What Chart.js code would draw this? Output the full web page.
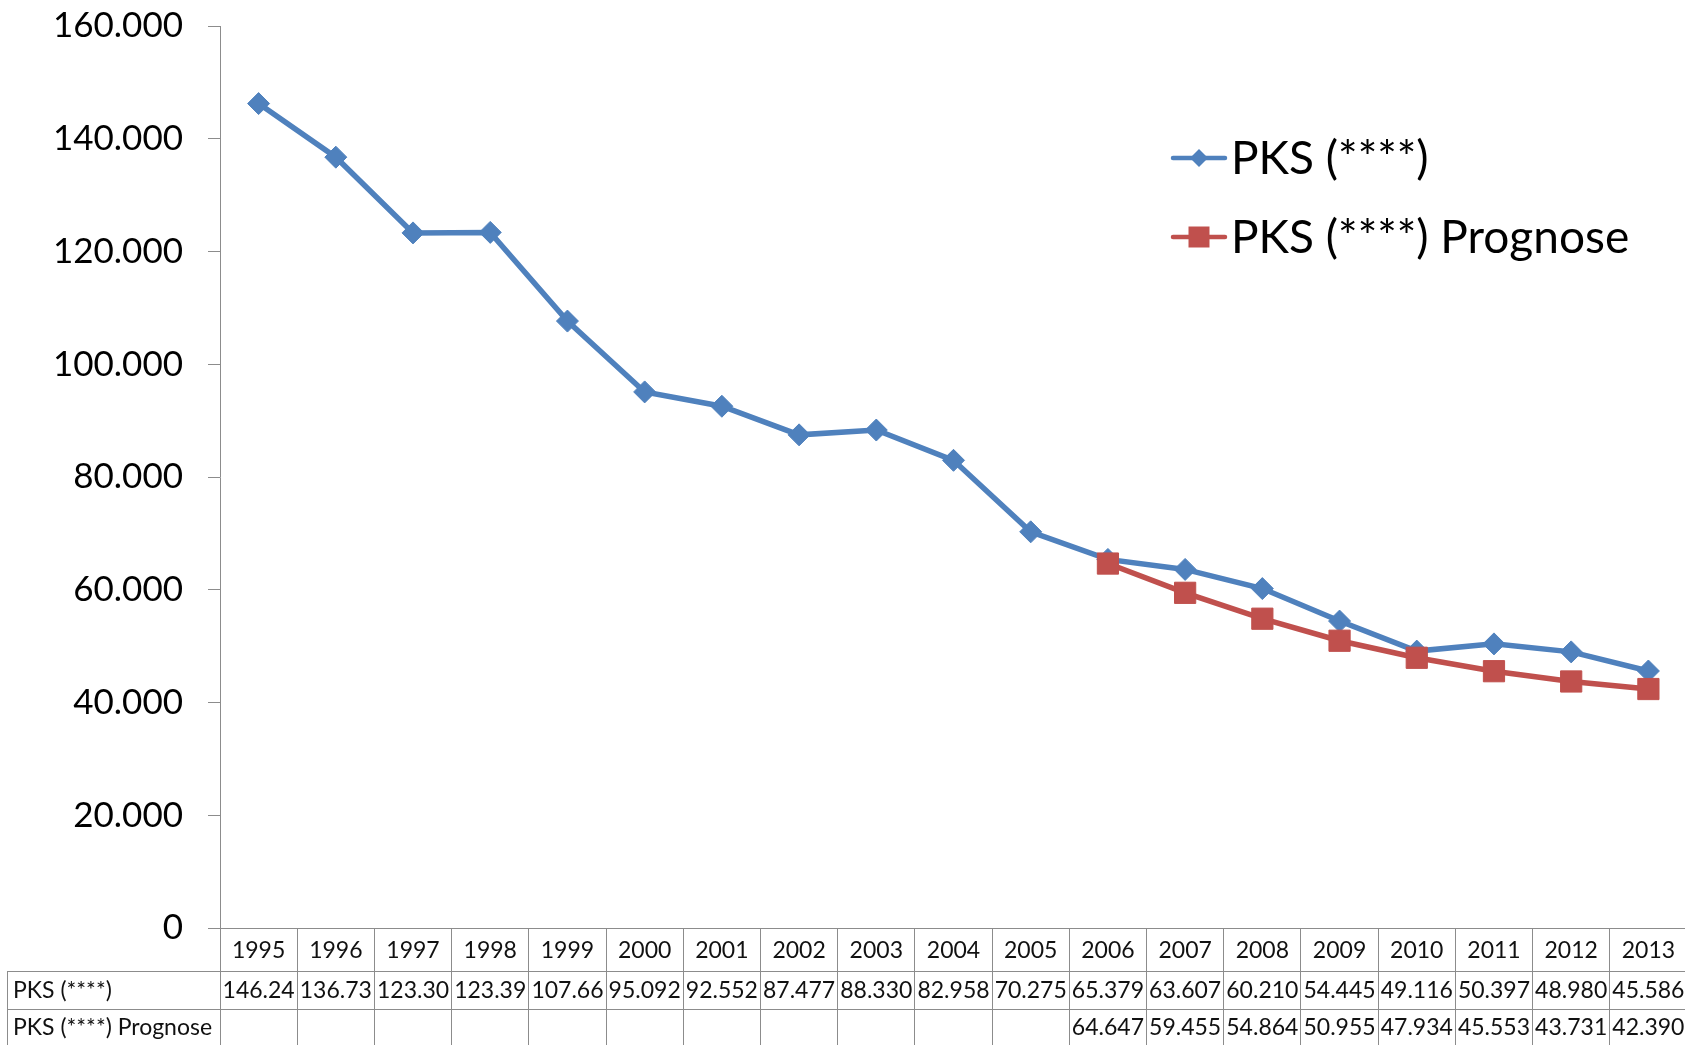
<!DOCTYPE html>
<html><head><meta charset="utf-8">
<script src="https://cdn.jsdelivr.net/npm/chart.js@4/dist/chart.umd.min.js"></script>
<style>html,body{margin:0;padding:0;background:#fff;overflow:hidden;}#wrap{width:1688px;height:1045px;}</style>
</head><body><div id="wrap"><canvas id="c" width="1688" height="1045"></canvas></div>
<script>
const years = ['1995','1996','1997','1998','1999','2000','2001','2002','2003','2004','2005','2006','2007','2008','2009','2010','2011','2012','2013'];
const pksValues = [146240,136730,123300,123390,107660,95092,92552,87477,88330,82958,70275,65379,63607,60210,54445,49116,50397,48980,45586];
const prognoseValues = [null,null,null,null,null,null,null,null,null,null,null,64647,59455,54864,50955,47934,45553,43731,42390];
const seriesNames = ['PKS (****)','PKS (****) Prognose'];
const yMin = 0, yMax = 160000, yStep = 20000;

const BLUE = '#4F81BD', RED = '#C0504D', GRID = '#8C8C8C', FONT = 'Lato';
function fmt(v){ return String(v).replace(/\B(?=(\d{3})+(?!\d))/g,'.'); }

const tablePlugin = {
  id:'table',
  afterDraw(chart){
    const ctx = chart.ctx, xs = chart.scales.x, ca = chart.chartArea;
    const r1 = 971, r2 = 1009, bottom = 1045;
    const colW = xs.getPixelForValue(1) - xs.getPixelForValue(0);
    ctx.save();
    ctx.strokeStyle = GRID; ctx.lineWidth = 1;
    ctx.beginPath();
    ctx.moveTo(7, r1+0.5); ctx.lineTo(ca.right, r1+0.5);
    ctx.moveTo(7, r2+0.5); ctx.lineTo(ca.right, r2+0.5);
    ctx.moveTo(7.5, r1); ctx.lineTo(7.5, bottom);
    ctx.stroke();
    ctx.fillStyle = '#111';
    ctx.font = '23px ' + FONT;
    ctx.textBaseline = 'middle';
    ctx.textAlign = 'left';
    ctx.fillText(seriesNames[0], 13, (r1+r2)/2+1);
    ctx.fillText(seriesNames[1], 13, (r2+bottom)/2+1);
    const rows = [[pksValues,(r1+r2)/2+1],[prognoseValues,(r2+bottom)/2+1]];
    rows.forEach(([vals,cy])=>{
      vals.forEach((v,i)=>{
        if(v===null) return;
        let s = fmt(v);
        const cx = xs.getPixelForValue(i);
        while(ctx.measureText(s).width > colW - 4 && s.length>1) s = s.slice(0,-1);
        ctx.textAlign = 'center';
        ctx.fillText(s, cx, cy);
      });
    });
    ctx.restore();
  }
};

const legendPlugin = {
  id:'customLegend',
  afterDraw(chart){
    const ctx = chart.ctx;
    const items = [
      {name:seriesNames[0], color:BLUE, shape:'diamond', y:158},
      {name:seriesNames[1], color:RED, shape:'square', y:237}
    ];
    ctx.save();
    items.forEach(it=>{
      ctx.strokeStyle = it.color; ctx.lineWidth = 4.5; ctx.lineCap='round';
      ctx.beginPath(); ctx.moveTo(1173, it.y); ctx.lineTo(1225, it.y); ctx.stroke();
      ctx.fillStyle = it.color;
      const cx = 1199;
      ctx.beginPath();
      if(it.shape==='diamond'){
        const r=9; ctx.moveTo(cx-r,it.y); ctx.lineTo(cx,it.y-r); ctx.lineTo(cx+r,it.y); ctx.lineTo(cx,it.y+r); ctx.closePath();
      } else {
        const h=10.5; ctx.rect(cx-h,it.y-h,2*h,2*h);
      }
      ctx.fill();
      ctx.fillStyle = '#000';
      ctx.font = '46px ' + FONT;
      ctx.textAlign='left'; ctx.textBaseline='middle';
      ctx.fillText(it.name, 1231, it.y+1);
    });
    ctx.restore();
  }
};

new Chart(document.getElementById('c'), {
  type:'line',
  data:{
    labels: years,
    datasets:[
      {label:seriesNames[0], data:pksValues, borderColor:BLUE, backgroundColor:BLUE, borderWidth:5.5,
       pointStyle:'rectRot', pointRadius:11, pointBorderWidth:1, pointBorderColor:BLUE, pointBackgroundColor:BLUE, tension:0, order:1},
      {label:seriesNames[1], data:prognoseValues, borderColor:RED, backgroundColor:RED, borderWidth:5.5,
       pointStyle:'rect', pointRadius:15, pointBorderWidth:1, pointBorderColor:RED, pointBackgroundColor:RED, tension:0, order:0, spanGaps:false}
    ]
  },
  options:{
    responsive:false, animation:false, devicePixelRatio:1,
    layout:{autoPadding:false, padding:{top:26,left:0,right:1,bottom:0}},
    plugins:{legend:{display:false}, tooltip:{enabled:false}},
    scales:{
      x:{
        offset:true,
        grid:{display:true, offset:true, drawOnChartArea:false, drawTicks:true, tickLength:118, color:GRID},
        border:{display:true, color:GRID, width:1},
        ticks:{font:{family:FONT,size:23}, color:'#111', padding:-109, maxRotation:0, autoSkip:false},
        afterFit(s){ s.height = 117; s.paddingLeft = 0; s.paddingRight = 0; }
      },
      y:{
        min:yMin, max:yMax,
        grid:{display:true, drawOnChartArea:false, drawTicks:true, tickLength:12, color:GRID},
        border:{display:true, color:GRID, width:1},
        ticks:{stepSize:yStep, font:{family:FONT,size:35}, color:'#000', padding:25, callback:(v)=>fmt(v)},
        afterFit(s){ s.width = 220; s.paddingTop = 0; s.paddingBottom = 0; }
      }
    }
  },
  plugins:[tablePlugin, legendPlugin]
});
</script></body></html>
